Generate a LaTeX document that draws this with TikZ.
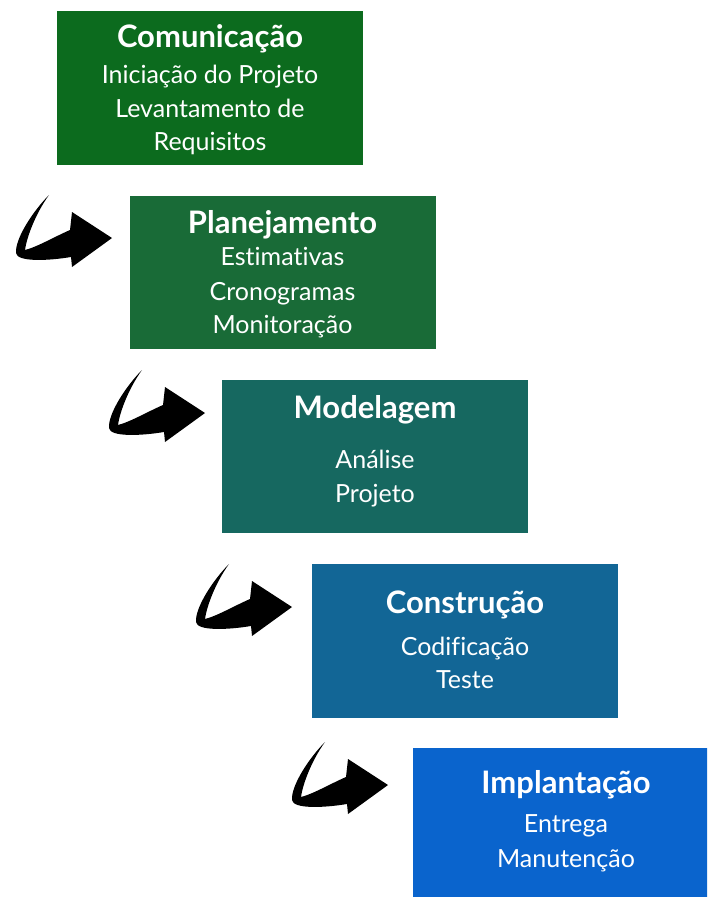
\documentclass[tikz,border=0pt]{standalone}
\usepackage{fontspec}
\setmainfont{Lato}[Ligatures=CommonOff]
\definecolor{cA}{RGB}{12,107,30}
\definecolor{cB}{RGB}{25,107,55}
\definecolor{cC}{RGB}{22,104,96}
\definecolor{cD}{RGB}{18,102,150}
\definecolor{cE}{RGB}{10,100,205}
\begin{document}
\begin{tikzpicture}[x=1pt,y=-1pt]
\tikzset{
 box/.style={draw=none, minimum width=306pt, minimum height=154pt, inner sep=0pt, outer sep=0pt},
 ttl/.style={anchor=base, text=white, font=\bfseries\fontsize{31}{34}\selectfont, inner sep=0pt},
 txt/.style={anchor=base, text=white, font=\fontsize{25}{34}\selectfont, inner sep=0pt},
 bendarrow/.pic={
  \fill[black] (-63,-43) .. controls (-78,-28) and (-97,0) .. (-96,15)
     .. controls (-95,24) and (-65,23) .. (-41,19) -- (-40,29) -- (0,0) -- (-40,-26) -- (-42,-8)
     .. controls (-58,-1) and (-75,9) .. (-87,12)
     .. controls (-85,-2) and (-76,-25) .. (-63,-43) -- cycle;
 }
}
\useasboundingbox (0,0) rectangle (707,897);
\clip (0,0) rectangle (707,897);
\fill[white] (0,0) rectangle (707,897);
% boxes
\node[box, fill=cA] (b1) at (210,88) {};
\node[box, fill=cB, minimum height=153pt] (b2) at (282.5,272.5) {};
\node[box, fill=cC, minimum height=153pt] (b3) at (375,456.5) {};
\node[box, fill=cD] (b4) at (465,641) {};
\node[box, fill=cE] (b5) at (566,825) {};
% arrows
\pic (a1) at (112,238) {bendarrow};
\pic (a2) at (205,413) {bendarrow};
\pic (a3) at (292,607) {bendarrow};
\pic (a4) at (388,785) {bendarrow};
% texts
\node[ttl] (t1) at (210,47) {Comunicação};
\node[txt] (t1a) at (210,83) {Iniciação do Projeto};
\node[txt] (t1b) at (210,117) {Levantamento de};
\node[txt] (t1c) at (210,150) {Requisitos};
\node[ttl] (t2) at (282.5,233) {Planejamento};
\node[txt] (t2a) at (282.5,265) {Estimativas};
\node[txt] (t2b) at (282.5,300) {Cronogramas};
\node[txt] (t2c) at (282.5,333) {Monitoração};
\node[ttl] (t3) at (375,418) {Modelagem};
\node[txt] (t3a) at (375,468) {Análise};
\node[txt] (t3b) at (375,502) {Projeto};
\node[ttl] (t4) at (465,613) {Construção};
\node[txt] (t4a) at (465,655) {Codificação};
\node[txt] (t4b) at (465,688) {Teste};
\node[ttl] (t5) at (566,793) {Implantação};
\node[txt] (t5a) at (566,832) {Entrega};
\node[txt] (t5b) at (566,867) {Manutenção};
\end{tikzpicture}
\end{document}
